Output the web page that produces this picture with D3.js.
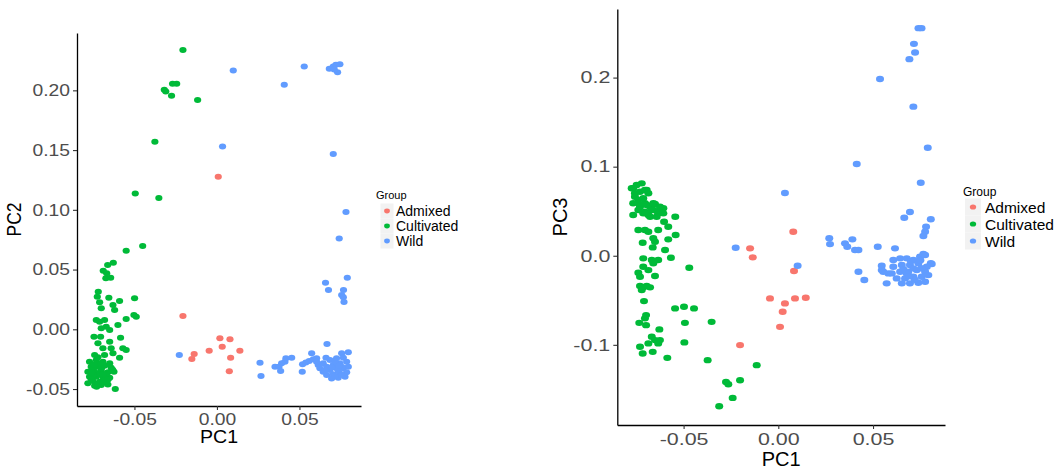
<!DOCTYPE html>
<html>
<head>
<meta charset="utf-8">
<script src="https://cdn.jsdelivr.net/npm/d3@7"></script>
<style>
  html, body { margin: 0; padding: 0; background: #ffffff; }
  svg { display: block; }
</style>
</head>
<body>
<svg id="chart" width="1061" height="470"></svg>
<script>
// ---------------- DATA ----------------
const groups = ["Admixed", "Cultivated", "Wild"];

const xTicks = [-0.05, 0, 0.05];
const xTickLabels = ["-0.05", "0.00", "0.05"];
const pc2Ticks = [-0.05, 0, 0.05, 0.10, 0.15, 0.20];
const pc2TickLabels = ["-0.05", "0.00", "0.05", "0.10", "0.15", "0.20"];
const pc3Ticks = [-0.1, 0, 0.1, 0.2];
const pc3TickLabels = ["-0.1", "0.0", "0.1", "0.2"];

// PC1 vs PC2  [PC1, PC2]
const pc12Admixed = [[0.0008,0.1276],[-0.0206,0.0111],[0.0018,-0.0075],[0.0079,-0.0084],[0.0032,-0.0146],[-0.0047,-0.0179],[0.0139,-0.0179],[-0.0138,-0.0207],[-0.0152,-0.0249],[0.0083,-0.0238],[0.0075,-0.0352]];
const pc12Cultivated = [[-0.0206,0.2337],[-0.0319,0.2004],[-0.0310,0.1990],[-0.0275,0.1954],[-0.0269,0.2055],[-0.0244,0.2055],[-0.0117,0.1920],[-0.0376,0.1570],[-0.0495,0.1136],[-0.0352,0.1100],[-0.0450,0.0698],[-0.0550,0.0658],[-0.0628,0.0558],[-0.0662,0.0539],[-0.0689,0.0491],[-0.0668,0.0469],[-0.0673,0.0427],[-0.0644,0.0432],[-0.0719,0.0315],
  [-0.0725,0.0273],[-0.0655,0.0265],[-0.0590,0.0237],[-0.0630,0.0204],[-0.0711,0.0226],[-0.0701,0.0176],[-0.0620,0.0162],[-0.0499,0.0260],
  [-0.0731,0.0078],[-0.0711,0.0064],[-0.0681,0.0078],[-0.0671,0.0022],[-0.0701,0.0008],[-0.0650,-0.0006],[-0.0600,0.0036],[-0.0550,0.0086],[-0.0503,0.0120],[-0.0489,0.0106],
  [-0.0745,-0.0062],[-0.0705,-0.0062],[-0.0584,-0.0070],[-0.0721,-0.0117],[-0.0650,-0.0104],[-0.0641,-0.0159],[-0.0691,-0.0159],[-0.0570,-0.0159],[-0.0550,-0.0173],[-0.0741,-0.0215],[-0.0681,-0.0215],[-0.0590,-0.0238],[-0.0630,-0.0201],
  [-0.0772,-0.0271],[-0.0731,-0.0257],[-0.0691,-0.0271],[-0.0650,-0.0285],[-0.0762,-0.0313],[-0.0721,-0.0313],[-0.0681,-0.0305],[-0.0641,-0.0322],[-0.0782,-0.0355],[-0.0741,-0.0355],[-0.0701,-0.0349],[-0.0661,-0.0360],[-0.0624,-0.0355],[-0.0772,-0.0397],[-0.0731,-0.0397],[-0.0691,-0.0397],[-0.0650,-0.0405],[-0.0752,-0.0433],[-0.0711,-0.0439],[-0.0671,-0.0433],[-0.0782,-0.0452],[-0.0741,-0.0472],[-0.0701,-0.0467],[-0.0661,-0.0461],[-0.0752,-0.0383],[-0.0711,-0.0290],[-0.0752,-0.0335],[-0.0681,-0.0420],[-0.0616,-0.0500],[-0.0729,-0.0480],[-0.0711,-0.0376],[-0.0671,-0.0376],[-0.0762,-0.0415],[-0.0632,-0.0338],
  [-0.0721,-0.0235],[-0.0700,-0.0325],[-0.0745,-0.0295],[-0.0660,-0.0420],[-0.0720,-0.0455],[-0.0691,-0.0445],[-0.0760,-0.0360],[-0.0690,-0.0375]];
const pc12Wild = [[0.0099,0.2166],[0.0529,0.2200],[0.0408,0.2046],[0.0681,0.2180],[0.0705,0.2199],[0.0721,0.2214],[0.0745,0.2219],[0.0731,0.2152],[0.0711,0.2175],[0.0034,0.1529],[0.0705,0.1468],[0.0782,0.0982],[0.0741,0.0759],[0.0658,0.0390],[0.0790,0.0432],[0.0676,0.0329],[0.0767,0.0329],[0.0756,0.0287],[0.0766,0.0268],[0.0770,0.0229],[0.0667,-0.0123],[-0.0228,-0.0215],[0.0261,-0.0279],[0.0267,-0.0391],[0.0352,-0.0313],[0.0376,-0.0313],[0.0386,-0.0349],[0.0412,-0.0271],[0.0418,-0.0243],[0.0453,-0.0238],[0.0392,-0.0285],[0.0517,-0.0355],[0.0574,-0.0201],[0.0796,-0.0193],[0.0756,-0.0201],[0.0661,-0.0238],[0.0519,-0.0293],[0.0539,-0.0277],[0.0559,-0.0265],[0.0584,-0.0251],[0.0604,-0.0243],
  [0.0614,-0.0299],[0.0644,-0.0285],[0.0685,-0.0257],[0.0725,-0.0243],[0.0766,-0.0238],[0.0624,-0.0327],[0.0665,-0.0313],[0.0705,-0.0299],[0.0745,-0.0285],[0.0786,-0.0271],[0.0644,-0.0355],[0.0685,-0.0341],[0.0725,-0.0327],[0.0766,-0.0327],[0.0796,-0.0313],[0.0665,-0.0383],[0.0705,-0.0377],[0.0745,-0.0369],[0.0786,-0.0360],[0.0695,-0.0411],[0.0735,-0.0405],[0.0776,-0.0397],[0.0715,-0.0271],[0.0756,-0.0313],[0.0675,-0.0327],[0.0604,-0.0271],
  [0.0695,-0.0320],[0.0735,-0.0345],[0.0655,-0.0345],[0.0715,-0.0390],[0.0755,-0.0380],[0.0740,-0.0305]];

// PC1 vs PC3  [PC1, PC3]
const pc13Admixed = [[0.0079,0.0270],[-0.0149,0.0083],[-0.0135,-0.0018],[0.0083,-0.0172],[-0.0044,-0.0479],[0.0035,-0.0535],[0.0088,-0.0479],[0.0145,-0.0472],[0.0023,-0.0629],[0.0009,-0.0798],[-0.0202,-0.1003]];
const pc13Cultivated = [[-0.0766,0.0757],[-0.0721,0.0813],[-0.0695,0.0738],[-0.0686,0.0701],[-0.0757,0.0663],[-0.0739,0.0626],[-0.0766,0.0589],[-0.0766,0.0457],[-0.0730,0.0570],[-0.0704,0.0589],[-0.0677,0.0551],[-0.0651,0.0581],[-0.0660,0.0513],[-0.0634,0.0476],[-0.0607,0.0533],[-0.0713,0.0476],[-0.0686,0.0457],[-0.0739,0.0513],[-0.0544,0.0438],[-0.0739,0.0289],[-0.0704,0.0289],[-0.0686,0.0270],[-0.0634,0.0289],[-0.0603,0.0382],[-0.0581,0.0326],[-0.0716,0.0146],[-0.0660,0.0196],[-0.0651,0.0157],[-0.0581,0.0184],[-0.0542,0.0233],[-0.0663,0.0094],[-0.0598,0.0064],[-0.0567,-0.0022],[-0.0713,-0.0029],[-0.0668,-0.0048],[-0.0634,-0.0048],[-0.0660,-0.0085],[-0.0739,-0.0191],[-0.0730,-0.0236],[-0.0713,-0.0124],[-0.0686,-0.0161],[-0.0651,-0.0228],[-0.0470,-0.0135],[-0.0730,-0.0340],[-0.0713,-0.0355],[-0.0695,-0.0340],[-0.0677,-0.0355],[-0.0721,-0.0385],[-0.0709,-0.0509],[-0.0545,-0.0591],[-0.0498,-0.0573],[-0.0445,-0.0591],[-0.0698,-0.0666],[-0.0704,-0.0703],[-0.0734,-0.0753],[-0.0698,-0.0779],[-0.0493,-0.0753],[-0.0352,-0.0742],[-0.0668,-0.0910],[-0.0628,-0.0827],[-0.0730,-0.1022],[-0.0686,-0.0984],[-0.0651,-0.0947],[-0.0625,-0.0947],[-0.0634,-0.0984],[-0.0716,-0.1097],[-0.0663,-0.1079],[-0.0496,-0.0973],[-0.0586,-0.1146],[-0.0373,-0.1172],[-0.0114,-0.1228],[-0.0276,-0.1416],[-0.0264,-0.1442],[-0.0202,-0.1397],[-0.0241,-0.1596],[-0.0312,-0.1689],
  [-0.0774,0.0757],[-0.0748,0.0794],[-0.0757,0.0701],[-0.0730,0.0719],[-0.0713,0.0645],[-0.0730,0.0551],[-0.0695,0.0570],[-0.0660,0.0589],[-0.0625,0.0551],[-0.0704,0.0494],[-0.0668,0.0513],[-0.0634,0.0494],[-0.0607,0.0476],[-0.0677,0.0438],[-0.0642,0.0438],[-0.0704,0.0738]];
const pc13Wild = [[0.0740,0.2555],[0.0756,0.2555],[0.0716,0.2379],[0.0722,0.2281],[0.0692,0.2207],[0.0537,0.1985],[0.0713,0.1674],[0.0789,0.1213],[0.0414,0.1030],[0.0752,0.0820],[0.0035,0.0704],[0.0695,0.0491],[0.0665,0.0427],[0.0805,0.0409],[0.0780,0.0326],[0.0775,0.0270],[0.0766,0.0221],[-0.0225,0.0090],[0.0102,-0.0112],[0.0269,0.0196],[0.0273,0.0131],[0.0352,0.0139],[0.0364,0.0101],[0.0391,0.0184],[0.0405,0.0064],[0.0423,0.0064],[0.0525,0.0101],[0.0616,0.0083],[0.0423,-0.0180],[0.0454,-0.0273],[0.0546,-0.0112],[0.0546,-0.0161],[0.0572,-0.0310],[0.0581,-0.0198],[0.0805,-0.0085],[0.0775,0.0008],[0.0748,-0.0011],[0.0766,0.0019],[0.0810,-0.0093],[0.0554,-0.0180],
  [0.0607,-0.0048],[0.0643,-0.0029],[0.0678,-0.0029],[0.0713,-0.0048],[0.0607,-0.0124],[0.0652,-0.0104],[0.0695,-0.0104],[0.0739,-0.0085],[0.0784,-0.0124],[0.0599,-0.0198],[0.0643,-0.0180],[0.0686,-0.0180],[0.0731,-0.0161],[0.0775,-0.0180],[0.0625,-0.0254],[0.0669,-0.0254],[0.0713,-0.0236],[0.0757,-0.0236],[0.0792,-0.0217],[0.0652,-0.0310],[0.0695,-0.0310],[0.0739,-0.0303],[0.0775,-0.0292],[0.0678,-0.0198],[0.0713,-0.0142],
  [0.0720,-0.0270],[0.0690,-0.0230],[0.0755,-0.0140],[0.0700,-0.0060],[0.0750,-0.0050],[0.0660,-0.0150]];

// ---------------- STYLE ----------------
const colors = { Admixed: "#F8766D", Cultivated: "#00BA38", Wild: "#619CFF" };
const FONT = "'Liberation Sans', Arial, Helvetica, sans-serif";

const svg = d3.select("#chart");

function panel(cfg) {
  const g = svg.append("g");
  const x = d3.scaleLinear().domain(cfg.xDomain).range([cfg.left, cfg.right]);
  const y = d3.scaleLinear().domain(cfg.yDomain).range([cfg.bottom, cfg.top]);

  // points
  const data = [];
  groups.forEach(gr => cfg.series[gr].forEach(p => data.push({ g: gr, x: p[0], y: p[1] })));
  g.append("g").selectAll("ellipse").data(data).join("ellipse")
    .attr("cx", d => x(d.x)).attr("cy", d => y(d.y))
    .attr("rx", cfg.rx).attr("ry", cfg.ry)
    .attr("fill", d => colors[d.g]);

  // y axis
  const ya = g.append("g").attr("transform", `translate(${cfg.left},0)`)
    .call(d3.axisLeft(y).tickValues(cfg.yTicks).tickFormat((d, i) => cfg.yTickLabels[i])
      .tickSize(4).tickSizeOuter(0).tickPadding(3));
  ya.select(".domain").attr("stroke", "#000").attr("stroke-width", 1.3);
  ya.selectAll(".tick line").attr("stroke", "#333").attr("stroke-width", 1.1);
  ya.selectAll(".tick text")
    .attr("font-family", FONT).attr("font-size", cfg.tickFont).attr("fill", "#4D4D4D")
    .attr("x", -7 / cfg.sx).attr("transform", `scale(${cfg.sx},1)`);

  // x axis
  const xa = g.append("g").attr("transform", `translate(0,${cfg.bottom})`)
    .call(d3.axisBottom(x).tickValues(xTicks).tickFormat((d, i) => xTickLabels[i])
      .tickSize(4).tickSizeOuter(0).tickPadding(cfg.xPad));
  xa.select(".domain").attr("stroke", "#000").attr("stroke-width", 1.3);
  xa.selectAll(".tick line").attr("stroke", "#333").attr("stroke-width", 1.1);
  xa.selectAll(".tick text")
    .attr("font-family", FONT).attr("font-size", cfg.tickFont).attr("fill", "#4D4D4D")
    .attr("transform", `scale(${cfg.sx},1)`);

  // axis titles
  g.append("text")
    .attr("transform", `translate(${(cfg.left + cfg.right) / 2},${cfg.xTitleY}) scale(${cfg.titleSx},1)`)
    .attr("text-anchor", "middle").attr("font-family", FONT).attr("font-size", cfg.titleFont)
    .attr("fill", "#000").text("PC1");
  g.append("text")
    .attr("transform", `translate(${cfg.yTitleX},${(cfg.top + cfg.bottom) / 2}) rotate(-90) scale(1,${cfg.titleSx})`)
    .attr("text-anchor", "middle").attr("font-family", FONT).attr("font-size", cfg.titleFont)
    .attr("fill", "#000").text(cfg.yTitle);

  // legend
  const lg = g.append("g");
  lg.append("text").attr("x", cfg.legX).attr("y", cfg.legY)
    .attr("font-family", FONT).attr("font-size", cfg.legTitleFont).attr("fill", "#000").text("Group");
  groups.forEach((gr, i) => {
    const cy = cfg.legKeyY + i * cfg.legStep;
    lg.append("rect").attr("x", cfg.legKeyX - cfg.keyW / 2).attr("y", cy - cfg.legStep / 2)
      .attr("width", cfg.keyW).attr("height", cfg.legStep).attr("fill", "#F2F2F2");
    lg.append("ellipse").attr("cx", cfg.legKeyX).attr("cy", cy).attr("rx", cfg.rx * 0.8).attr("ry", cfg.ry * 0.8)
      .attr("fill", colors[gr]);
    lg.append("text").attr("x", cfg.legLabelX).attr("y", cy).attr("dy", "0.36em")
      .attr("font-family", FONT).attr("font-size", cfg.legFont).attr("fill", "#000").text(gr);
  });
}

panel({
  series: { Admixed: pc12Admixed, Cultivated: pc12Cultivated, Wild: pc12Wild },
  xDomain: [-0.0848, 0.0873], yDomain: [-0.0642, 0.248],
  left: 77, right: 361, top: 33, bottom: 406,
  yTicks: pc2Ticks, yTickLabels: pc2TickLabels, yTitle: "PC2",
  rx: 3.6, ry: 3.0, tickFont: 16.5, sx: 1.17, xPad: 3,
  titleFont: 17.5, titleSx: 1.12, xTitleY: 443, yTitleX: 21,
  legX: 376, legY: 199, legTitleFont: 11, legKeyX: 387, legKeyY: 211, legStep: 15, keyW: 13,
  legLabelX: 396, legFont: 14
});

panel({
  series: { Admixed: pc13Admixed, Cultivated: pc13Cultivated, Wild: pc13Wild },
  xDomain: [-0.085, 0.088], yDomain: [-0.190, 0.277],
  left: 617.3, right: 945, top: 9, bottom: 425,
  yTicks: pc3Ticks, yTickLabels: pc3TickLabels, yTitle: "PC3",
  rx: 4.0, ry: 3.2, tickFont: 16.5, sx: 1.3, xPad: 4,
  titleFont: 20, titleSx: 1.0, xTitleY: 466, yTitleX: 567,
  legX: 963, legY: 196, legTitleFont: 12, legKeyX: 973, legKeyY: 207, legStep: 17, keyW: 16,
  legLabelX: 985, legFont: 15.5
});
</script>
</body>
</html>
